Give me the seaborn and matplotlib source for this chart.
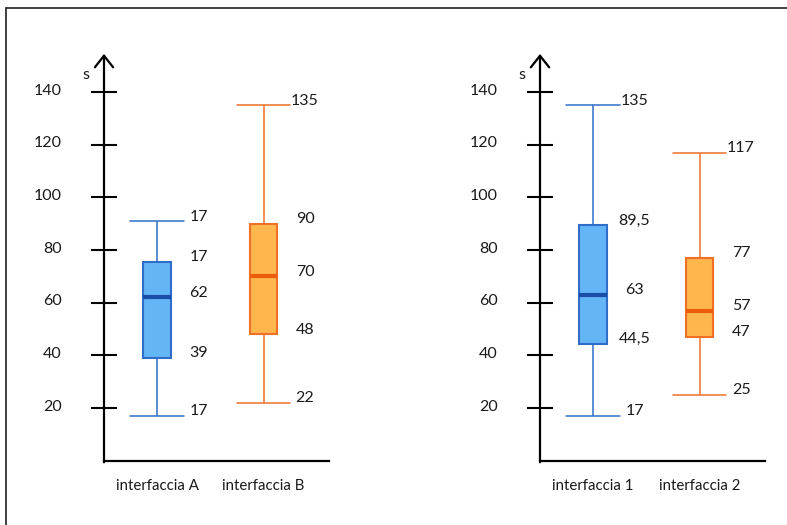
import numpy as np
import pandas as pd
import seaborn as sns
import matplotlib
matplotlib.use("Agg")
import matplotlib.pyplot as plt
from matplotlib.lines import Line2D
from matplotlib.transforms import ScaledTranslation

# minimo, Q1, mediana, Q3, massimo
groups_left = ["interfaccia A", "interfaccia B"]
vals_a = [17, 39, 62, 75.5, 91]
vals_b = [22, 48, 70, 90, 135]
labels_a = ["17", "39", "62", "17", "17"]
labels_b = ["22", "48", "70", "90", "135"]

groups_right = ["interfaccia 1", "interfaccia 2"]
vals_1 = [17, 44.5, 63, 89.5, 135]
vals_2 = [25, 47, 57, 77, 117]
labels_1 = ["17", "44,5", "63", "89,5", "135"]
labels_2 = ["25", "47", "57", "77", "117"]

y_ticks = [20, 40, 60, 80, 100, 120, 140]

sns.set_theme(style="white")
plt.rcParams['font.family'] = ['Lato', 'DejaVu Sans']

BLUE = dict(fill="#64b5f6", edge="#2f6dc9", median="#1a4ea6")
ORANGE = dict(fill="#ffb74d", edge="#f07028", median="#eb5c0c")

fig = plt.figure(figsize=(7.87, 5.25), dpi=100)
W, H = 787, 525


def draw_panel(left_px, groups, series, labels):
    ax = fig.add_axes([left_px / W, 64.3 / H, 225 / W, 421.3 / H])
    for name, vals, col in zip(groups, series, [BLUE, ORANGE]):
        df = pd.DataFrame({"gruppo": [name] * len(vals), "s": vals})
        sns.boxplot(data=df, x="gruppo", y="s", order=groups, ax=ax,
                    color=col["fill"], linecolor=col["edge"], saturation=1,
                    width=0.26, whis=np.inf, linewidth=1.5,
                    whiskerprops=dict(linewidth=1.1),
                    capprops=dict(linewidth=1.1),
                    medianprops=dict(color=col["median"], linewidth=3),
                    capwidths=0.5)
    for i, (vals, labs) in enumerate(zip(series, labels)):
        for v, t in zip(vals, labs):
            ax.annotate(t, xy=(i + 0.39, v), xytext=(0, 3.3),
                        textcoords="offset points", ha="center", va="center",
                        fontsize=11.5, color="#1a1a1a")
    ax.set_xlim(-0.498, 1.615)
    ax.set_ylim(0, 160)
    ax.set_yticks(y_ticks)
    ax.set_xlabel("")
    ax.set_ylabel("")
    for sp in ["top", "right", "left"]:
        ax.spines[sp].set_visible(False)
    ax.spines["bottom"].set_linewidth(1.6)
    ax.spines["bottom"].set_color("black")
    ax.tick_params(axis="y", left=True, direction="inout", length=18.7,
                   width=1.5, pad=21, labelsize=11.5, colors="black")
    ax.tick_params(axis="y", labelcolor="#1a1a1a")
    ax.tick_params(axis="x", length=0, pad=13.5, labelsize=10.8, labelcolor="#1a1a1a")
    shift = ScaledTranslation(0, 3 / 100, fig.dpi_scale_trans)
    for lab in ax.get_yticklabels():
        lab.set_transform(lab.get_transform() + shift)
    # asse verticale con freccia
    ax.annotate("", xy=(0, 154.5), xytext=(0, -0.6),
                xycoords=ax.get_yaxis_transform(),
                textcoords=ax.get_yaxis_transform(),
                arrowprops=dict(arrowstyle="->,head_length=0.7,head_width=0.55",
                                lw=1.6, color="black", shrinkA=0, shrinkB=0),
                annotation_clip=False)
    ax.annotate("s", xy=(0, 146.5), xytext=(-13, 0),
                xycoords=ax.get_yaxis_transform(), textcoords="offset points",
                ha="center", va="center", fontsize=11.5, color="#1a1a1a")
    return ax


draw_panel(104, groups_left, [vals_a, vals_b], [labels_a, labels_b])
draw_panel(540, groups_right, [vals_1, vals_2], [labels_1, labels_2])

# cornice
fig.add_artist(Line2D([6 / W, 1], [1 - 8 / H, 1 - 8 / H], color="#333333", lw=1.3))
fig.add_artist(Line2D([6 / W, 6 / W], [0, 1 - 8 / H], color="#333333", lw=1.3))

fig.savefig("out.png", dpi=100)
